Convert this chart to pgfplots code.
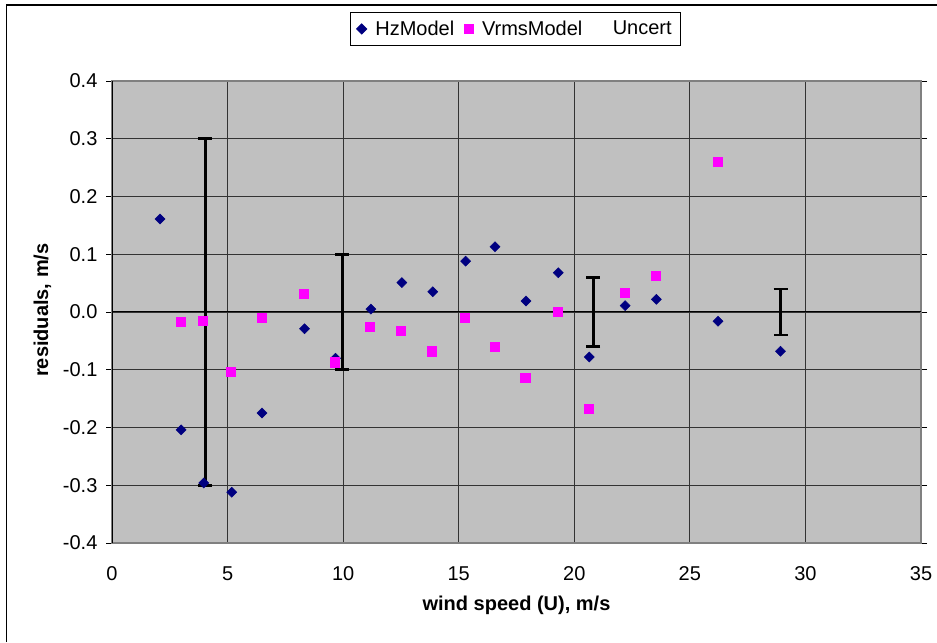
\documentclass[border=0pt]{standalone}
\usepackage{fontspec}
\setmainfont{Liberation Sans}
\usepackage{pgfplots}
\pgfplotsset{compat=1.18}

\definecolor{plotbg}{HTML}{C0C0C0}
\definecolor{hzblue}{HTML}{000080}
\definecolor{vrmspink}{HTML}{FF00FF}
\definecolor{plotframe}{HTML}{808080}
\newcommand{\chartfont}{\fontsize{15}{18}\selectfont}
\pgfplotsset{
    markonly legend/.style={legend image code/.code={\draw[##1] plot coordinates {(0pt,0pt)};}},
    empty legend/.style={legend image code/.code={\path (0pt,0pt) (8.75pt,0pt);}},
}

\begin{document}
\begin{tikzpicture}
\useasboundingbox (0,0) rectangle (702.75pt,481.5pt);
% outer chart frame (only left and top edges visible)
\draw[line width=1pt] (5pt,0pt) -- (5pt,477.75pt) -- (702.75pt,477.75pt);
\begin{axis}[
    at={(84pt,74.25pt)}, anchor=south west,
    width=606.75pt, height=346.5pt, scale only axis,
    xmin=0, xmax=35, ymin=-0.4, ymax=0.4,
    xtick={0,5,10,15,20,25,30,35},
    xticklabels={0,5,10,15,20,25,30,35},
    ytick={-0.4,-0.3,-0.2,-0.1,0,0.1,0.2,0.3,0.4},
    yticklabels={-0.4,-0.3,-0.2,-0.1,0.0,0.1,0.2,0.3,0.4},
    grid=major,
    major grid style={black!80, line width=0.6pt},
    axis background/.style={fill=plotbg},
    axis line style={plotframe, line width=0.9pt},
    tick align=outside,
    major tick length=4.5pt,
    xtick style={draw=none},
    ytick style={black, line width=0.6pt},
    xticklabel style={font=\chartfont, anchor=center, yshift=-18.75pt},
    yticklabel style={font=\chartfont, anchor=east, inner sep=0pt, xshift=-6.25pt},
    xlabel={wind speed (U), m/s},
    ylabel={residuals, m/s},
    xlabel style={font=\chartfont\bfseries, at={(axis description cs:0.5,-0.135)}, anchor=center},
    ylabel style={font=\chartfont\bfseries, at={(axis description cs:-0.086,0.504)}, anchor=center},
    legend style={at={(axis description cs:0.4988,1.1126)}, anchor=center,
        draw=black, line width=0.75pt, fill=white, font=\chartfont,
        legend columns=-1, inner xsep=4.5pt, inner ysep=4pt,
        /tikz/every odd column/.append style={column sep=4.5pt},
        /tikz/every even column/.append style={column sep=5.5pt}},
]

% y = 0 axis line and left axis line in black
\draw[black, line width=0.75pt] (axis cs:0,0) -- (axis cs:35,0);
\draw[black, line width=0.9pt] (rel axis cs:0,0) -- (rel axis cs:0,1);

% HzModel
\addplot[only marks, mark=square*, mark size=2.65pt,
    mark options={rotate=45, draw=hzblue, fill=hzblue}, markonly legend]
coordinates {
    (2.08,0.161) (2.99,-0.204) (3.97,-0.296) (5.18,-0.312) (6.49,-0.175)
    (8.33,-0.029) (9.67,-0.080) (11.20,0.005) (12.54,0.051) (13.88,0.035)
    (15.30,0.088) (16.57,0.113) (17.91,0.019) (19.31,0.068) (20.65,-0.078)
    (22.20,0.011) (23.55,0.022) (26.22,-0.016) (28.92,-0.068)
};
\addlegendentry{HzModel}

% VrmsModel
\addplot[only marks, mark=square*, mark size=3.4pt,
    mark options={draw=vrmspink, fill=vrmspink}, markonly legend]
coordinates {
    (2.99,-0.017) (3.92,-0.015) (5.12,-0.103) (6.48,-0.010) (8.28,0.031)
    (9.64,-0.087) (11.17,-0.026) (12.51,-0.033) (13.85,-0.068) (15.25,-0.010)
    (16.54,-0.060) (17.88,-0.114) (19.28,0.001) (20.62,-0.168) (22.17,0.033)
    (23.52,0.063) (26.19,0.260)
};
\addlegendentry{VrmsModel}

% Uncert (error bars only)
\addplot[draw=none, mark=none, empty legend,
    error bars/.cd, y dir=both, y explicit,
    error bar style={draw=black, solid, line width=2.25pt},
    error mark options={rotate=90, mark size=5.25pt, draw=black, line width=2pt}]
coordinates {
    (4.03,0) +- (0,0.30)
    (9.96,0) +- (0,0.10)
    (20.82,0) +- (0,0.06)
    (28.93,0) +- (0,0.04)
};
\addlegendentry{Uncert}

\end{axis}
\end{tikzpicture}
\end{document}
